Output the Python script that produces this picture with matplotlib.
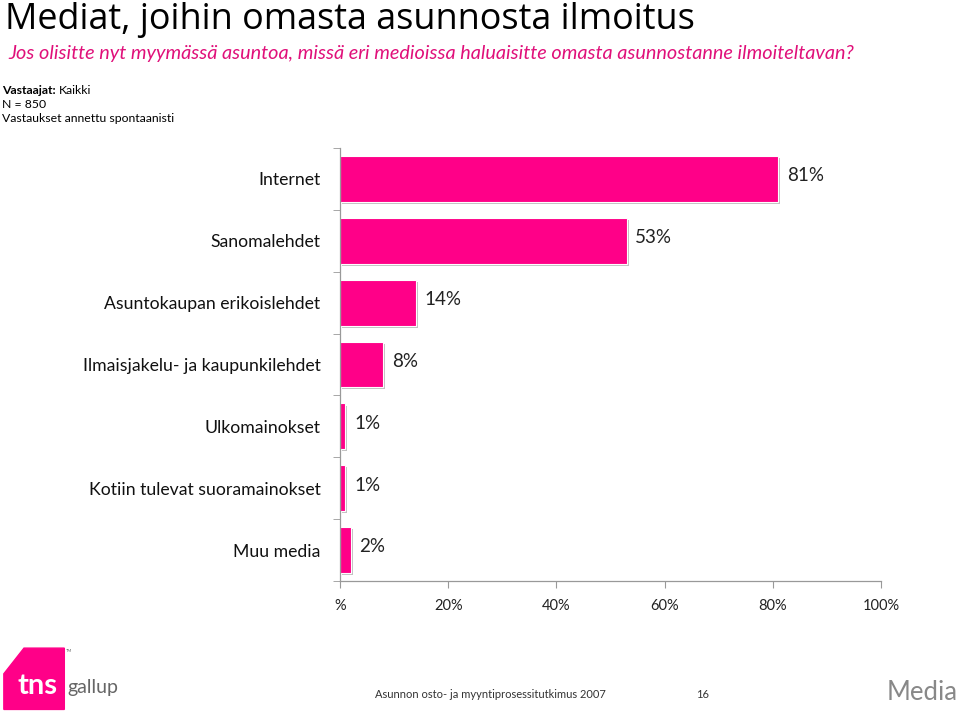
import matplotlib
matplotlib.use("Agg")
import matplotlib.pyplot as plt
import matplotlib.patheffects as pe
from matplotlib.patches import Polygon

categories = ["Internet", "Sanomalehdet", "Asuntokaupan erikoislehdet",
              "Ilmaisjakelu- ja kaupunkilehdet", "Ulkomainokset",
              "Kotiin tulevat suoramainokset", "Muu media"]
values = [81, 53, 14, 8, 1, 1, 2]
xticks = [0, 20, 40, 60, 80, 100]
xticklabels = ["%", "20%", "40%", "60%", "80%", "100%"]

PINK = "#FF0088"
FONT = ["Lato", "DejaVu Sans"]
plt.rcParams["font.family"] = FONT

fig = plt.figure(figsize=(9.6, 7.13), dpi=100)
ax = fig.add_axes([340/960, 1 - 581/713, (881-340)/960, (581-148)/713])

n = len(categories)
ypos = list(range(n))
bars = ax.barh(ypos, values, height=0.74, color=PINK, edgecolor="white", linewidth=0.8)
for b in bars:
    b.set_path_effects([pe.SimplePatchShadow(offset=(1.5, -1.5), shadow_rgbFace="#999999", alpha=0.6), pe.Normal()])
ax.set_ylim(n - 0.5, -0.5)
ax.set_xlim(0, 100)

for y, v in zip(ypos, values):
    ax.text(v + 1.6, y - 0.05, f"{v}%", va="center", ha="left", fontsize=13.5, color="#222222")

ax.set_yticks(ypos)
ax.set_yticklabels(categories, fontsize=12.7, color="#111111")
ax.tick_params(axis="y", length=0, pad=14)
ax.set_yticks([i - 0.5 for i in range(n + 1)], minor=True)
ax.tick_params(axis="y", which="minor", length=5, color="#999999", direction="out")

ax.set_xticks(xticks)
ax.set_xticklabels(xticklabels, fontsize=10.5, color="#222222")
ax.tick_params(axis="x", length=5, color="#999999", pad=8)

for s in ["top", "right"]:
    ax.spines[s].set_visible(False)
for s in ["left", "bottom"]:
    ax.spines[s].set_color("#999999")
    ax.spines[s].set_linewidth(0.9)

# header texts
fig.text(5/960, 1 - 20/713, "Mediat, joihin omasta asunnosta ilmoitus", fontsize=25.9,
         va="center", ha="left", color="black", family=["Open Sans", "DejaVu Sans"])
fig.text(8/960, 1 - 53/713, "Jos olisitte nyt myymässä asuntoa, missä eri medioissa haluaisitte omasta asunnostanne ilmoiteltavan?",
         fontsize=14.3, style="italic", color="#E0107A", va="center", ha="left")
fig.text(2/960, 1 - 90/713, "Vastaajat:", fontsize=8.8, va="center", ha="left", weight="bold")
fig.text(59/960, 1 - 90/713, "Kaikki", fontsize=8.8, va="center", ha="left")
fig.text(2/960, 1 - 104/713, "N = 850", fontsize=8.8, va="center", ha="left")
fig.text(2/960, 1 - 118/713, "Vastaukset annettu spontaanisti", fontsize=8.8, va="center", ha="left")

# footer
logo = Polygon([(0.004, 0.005), (0.004, 0.055), (0.025, 0.091), (0.067, 0.091), (0.067, 0.005)],
               closed=True, transform=fig.transFigure, color=PINK, zorder=1)
fig.patches.append(logo)
fig.text(17/960, 1 - 686/713, "tns", fontsize=21, weight="bold", color="white", va="center", ha="left")
fig.text(67/960, 1 - 688/713, "gallup", fontsize=14, color="#666666", va="center", ha="left")
fig.text(66/960, 1 - 651/713, "TM", fontsize=3, color="#666666", va="center", ha="left")
fig.text(490/960, 1 - 694/713, "Asunnon osto- ja myyntiprosessitutkimus 2007", fontsize=8,
         color="#333333", va="center", ha="center")
fig.text(703/960, 1 - 694/713, "16", fontsize=8, color="#333333", va="center", ha="center")
fig.text(958/960, 1 - 692/713, "Media", fontsize=18.5, color="#888888", va="center", ha="right")

fig.savefig("out.png", dpi=100)
